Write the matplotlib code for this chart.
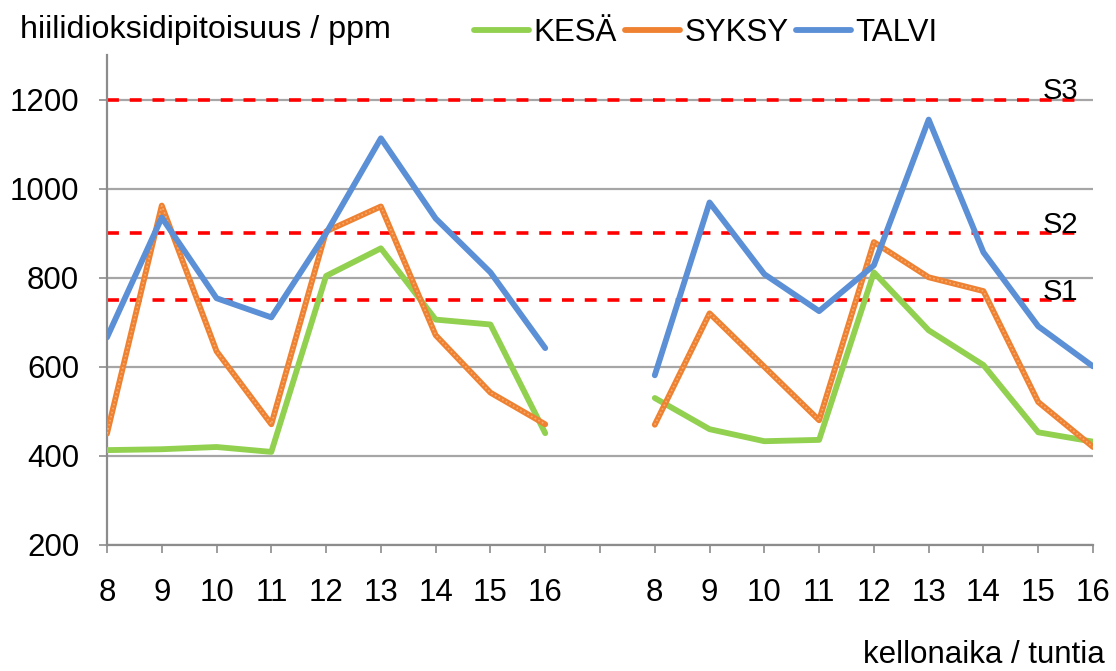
import matplotlib.pyplot as plt
import numpy as np

plt.rcParams['font.family'] = ['Liberation Sans', 'DejaVu Sans']

nan = np.nan
hours = ['8', '9', '10', '11', '12', '13', '14', '15', '16', '',
         '8', '9', '10', '11', '12', '13', '14', '15', '16']
kesa = [413, 415, 420, 409, 804, 866, 706, 695, 451, nan,
        530, 460, 433, 436, 812, 682, 604, 453, 432]
syksy = [450, 962, 635, 471, 904, 960, 671, 542, 471, nan,
         470, 720, 600, 480, 880, 801, 770, 521, 420]
talvi = [666, 935, 754, 711, 900, 1113, 933, 812, 642, nan,
         581, 969, 808, 725, 828, 1155, 857, 691, 601]
limits = [750, 900, 1200]
limit_names = ['S1', 'S2', 'S3']

x = np.arange(len(hours))

fig = plt.figure(figsize=(11.16, 6.71), dpi=100)
ax = fig.add_axes([107/1116, 1 - 545/671, (1093 - 107)/1116, (545 - 55)/671])

ax.set_ylim(200, 1300)
ax.set_xlim(0, len(hours) - 1)
ax.set_yticks([200, 400, 600, 800, 1000, 1200])
ax.set_xticks(x)
ax.set_xticklabels(hours)
ax.yaxis.grid(True, color='#a6a6a6', lw=1.6)
ax.set_axisbelow(True)
for s in ['top', 'right']:
    ax.spines[s].set_visible(False)
for s in ['left', 'bottom']:
    ax.spines[s].set_color('#8c8c8c')
    ax.spines[s].set_linewidth(1.6)
ax.tick_params(axis='x', length=6, width=1.2, color='#8c8c8c', pad=18, labelsize=22.5)
ax.tick_params(axis='y', length=6, width=1.2, color='#8c8c8c', pad=14, labelsize=22.5)

# raja-arvot
for lim, name in zip(limits, limit_names):
    ax.axhline(lim, xmax=0.989, color='red', lw=2.6, dashes=(3.3, 3.0), zorder=2)
    ax.text(17.73, lim + 1, name, ha='right', va='baseline', fontsize=21)

l1, = ax.plot(x, kesa, color='#92d050', lw=4.2, solid_capstyle='round', zorder=3)
l2, = ax.plot(x, syksy, color='#ee8232', lw=4.2, solid_capstyle='round', zorder=3)
ax.plot(x, syksy, color='#f6ab6d', lw=1.2, ls=(0, (1, 1.5)), zorder=3)
l3, = ax.plot(x, talvi, color='#5b8fd6', lw=4.2, solid_capstyle='round', zorder=3)

fig.legend([l1, l2, l3], ['KESÄ', 'SYKSY', 'TALVI'], loc='center',
           bbox_to_anchor=(706/1116, 1 - 33/671), ncol=3, frameon=False,
           fontsize=22.5, handlelength=1.75, handletextpad=0.15,
           columnspacing=0.25, borderpad=0)

fig.text(20/1116, 1 - 30/671, 'hiilidioksidipitoisuus / ppm', fontsize=23.2,
         ha='left', va='center')
fig.text(1105/1116, 1 - 655/671, 'kellonaika / tuntia', fontsize=22.5,
         ha='right', va='center')

fig.savefig('out.png', dpi=100)
